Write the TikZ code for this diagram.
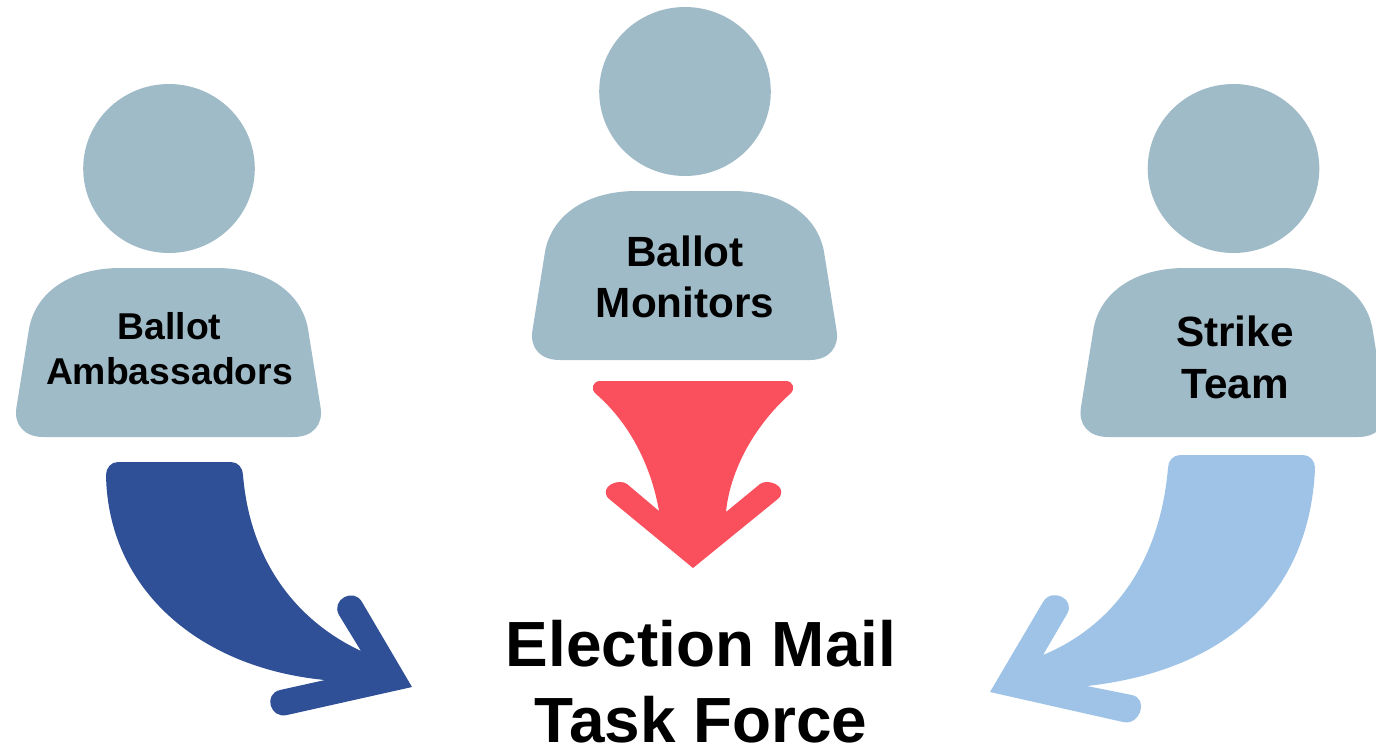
\documentclass[tikz,border=0pt]{standalone}
\usepackage{fontspec}
\setmainfont{Liberation Sans}
\usepackage{xcolor}
\usetikzlibrary{positioning}
\definecolor{personblue}{HTML}{A0BBC8}
\definecolor{darkarrow}{HTML}{2F4F96}
\definecolor{redarrow}{HTML}{FA4F5D}
\definecolor{lightarrow}{HTML}{9EC3E7}

\begin{document}
\begin{tikzpicture}[
      x=0.75pt, y=-0.75pt,
      person/.pic={
        \fill[personblue] (0.5,-99.5) ellipse [x radius=85.8, y radius=84.5];
        \fill[personblue] (-48,0) -- (48,0) .. controls (100,0) and (135,26) .. (140,64)
          -- (152,139) .. controls (155,156) and (145,169) .. (125,169)
          -- (-125,169) .. controls (-145,169) and (-155,156) .. (-152,139)
          -- (-140,64) .. controls (-135,26) and (-100,0) .. (-48,0) -- cycle;
      },
      rolelabel/.style={align=center, inner sep=0pt, text=black}
    ]
      \useasboundingbox (0,0) rectangle (1376,747);
      \clip (0,0) rectangle (1376,747);

      % Three persons
      \pic at (168.5,268) {person};
      \pic at (684.5,191) {person};
      \pic at (1233,268) {person};

      % Labels
      \node[rolelabel, font=\bfseries\fontsize{28}{33.8}\selectfont] (amb) at (169.5,349) {Ballot\\Ambassadors};
      \node[rolelabel, font=\bfseries\fontsize{31.7}{38.2}\selectfont] (mon) at (685,276.5) {Ballot\\Monitors};
      \node[rolelabel, font=\bfseries\fontsize{31.7}{39.5}\selectfont] (strike) at (1235,357.5) {Strike\\Team};
      \node[rolelabel, font=\bfseries\fontsize{47.9}{57.4}\selectfont] (mail) at (701,681.5) {Election Mail\\Task Force};

      % Left arrow
      \fill[darkarrow] (118,462) -- (231,462) .. controls (238,462) and (243,468) .. (243,475)
        .. controls (250,560) and (295,620) .. (361,651)
        -- (339,615) .. controls (330.5,600) and (353.5,587) .. (362,602)
        -- (412,687) -- (287,715) .. controls (270,719) and (263,694) .. (280,690)
        -- (325,680) .. controls (200,668) and (108,590) .. (106,475)
        .. controls (106,468) and (111,462) .. (118,462) -- cycle;

      % Middle arrow
      \fill[redarrow] (600,381) -- (786,381) .. controls (793,381) and (796,389) .. (790,394)
        .. controls (755,425) and (730,470) .. (726,512)
        -- (760,484) .. controls (768,478) and (788,486) .. (779,498)
        -- (693,568) -- (608,498) .. controls (599,486) and (619,478) .. (627,484)
        -- (659,511) .. controls (652,470) and (632,425) .. (596,394)
        .. controls (590,389) and (593,381) .. (600,381) -- cycle;

      % Right arrow
      \fill[lightarrow] (1180,455) -- (1303,455) .. controls (1310,455) and (1315,461) .. (1315,468)
        .. controls (1310,590) and (1230,670) .. (1087,686)
        -- (1132,695) .. controls (1149,699) and (1140,726) .. (1123,722)
        -- (990,692) -- (1043,602) .. controls (1052,587) and (1076,599) .. (1067,614)
        -- (1043,655) .. controls (1115,625) and (1160,560) .. (1168,468)
        .. controls (1168,461) and (1173,455) .. (1180,455) -- cycle;
    \end{tikzpicture}
\end{document}
